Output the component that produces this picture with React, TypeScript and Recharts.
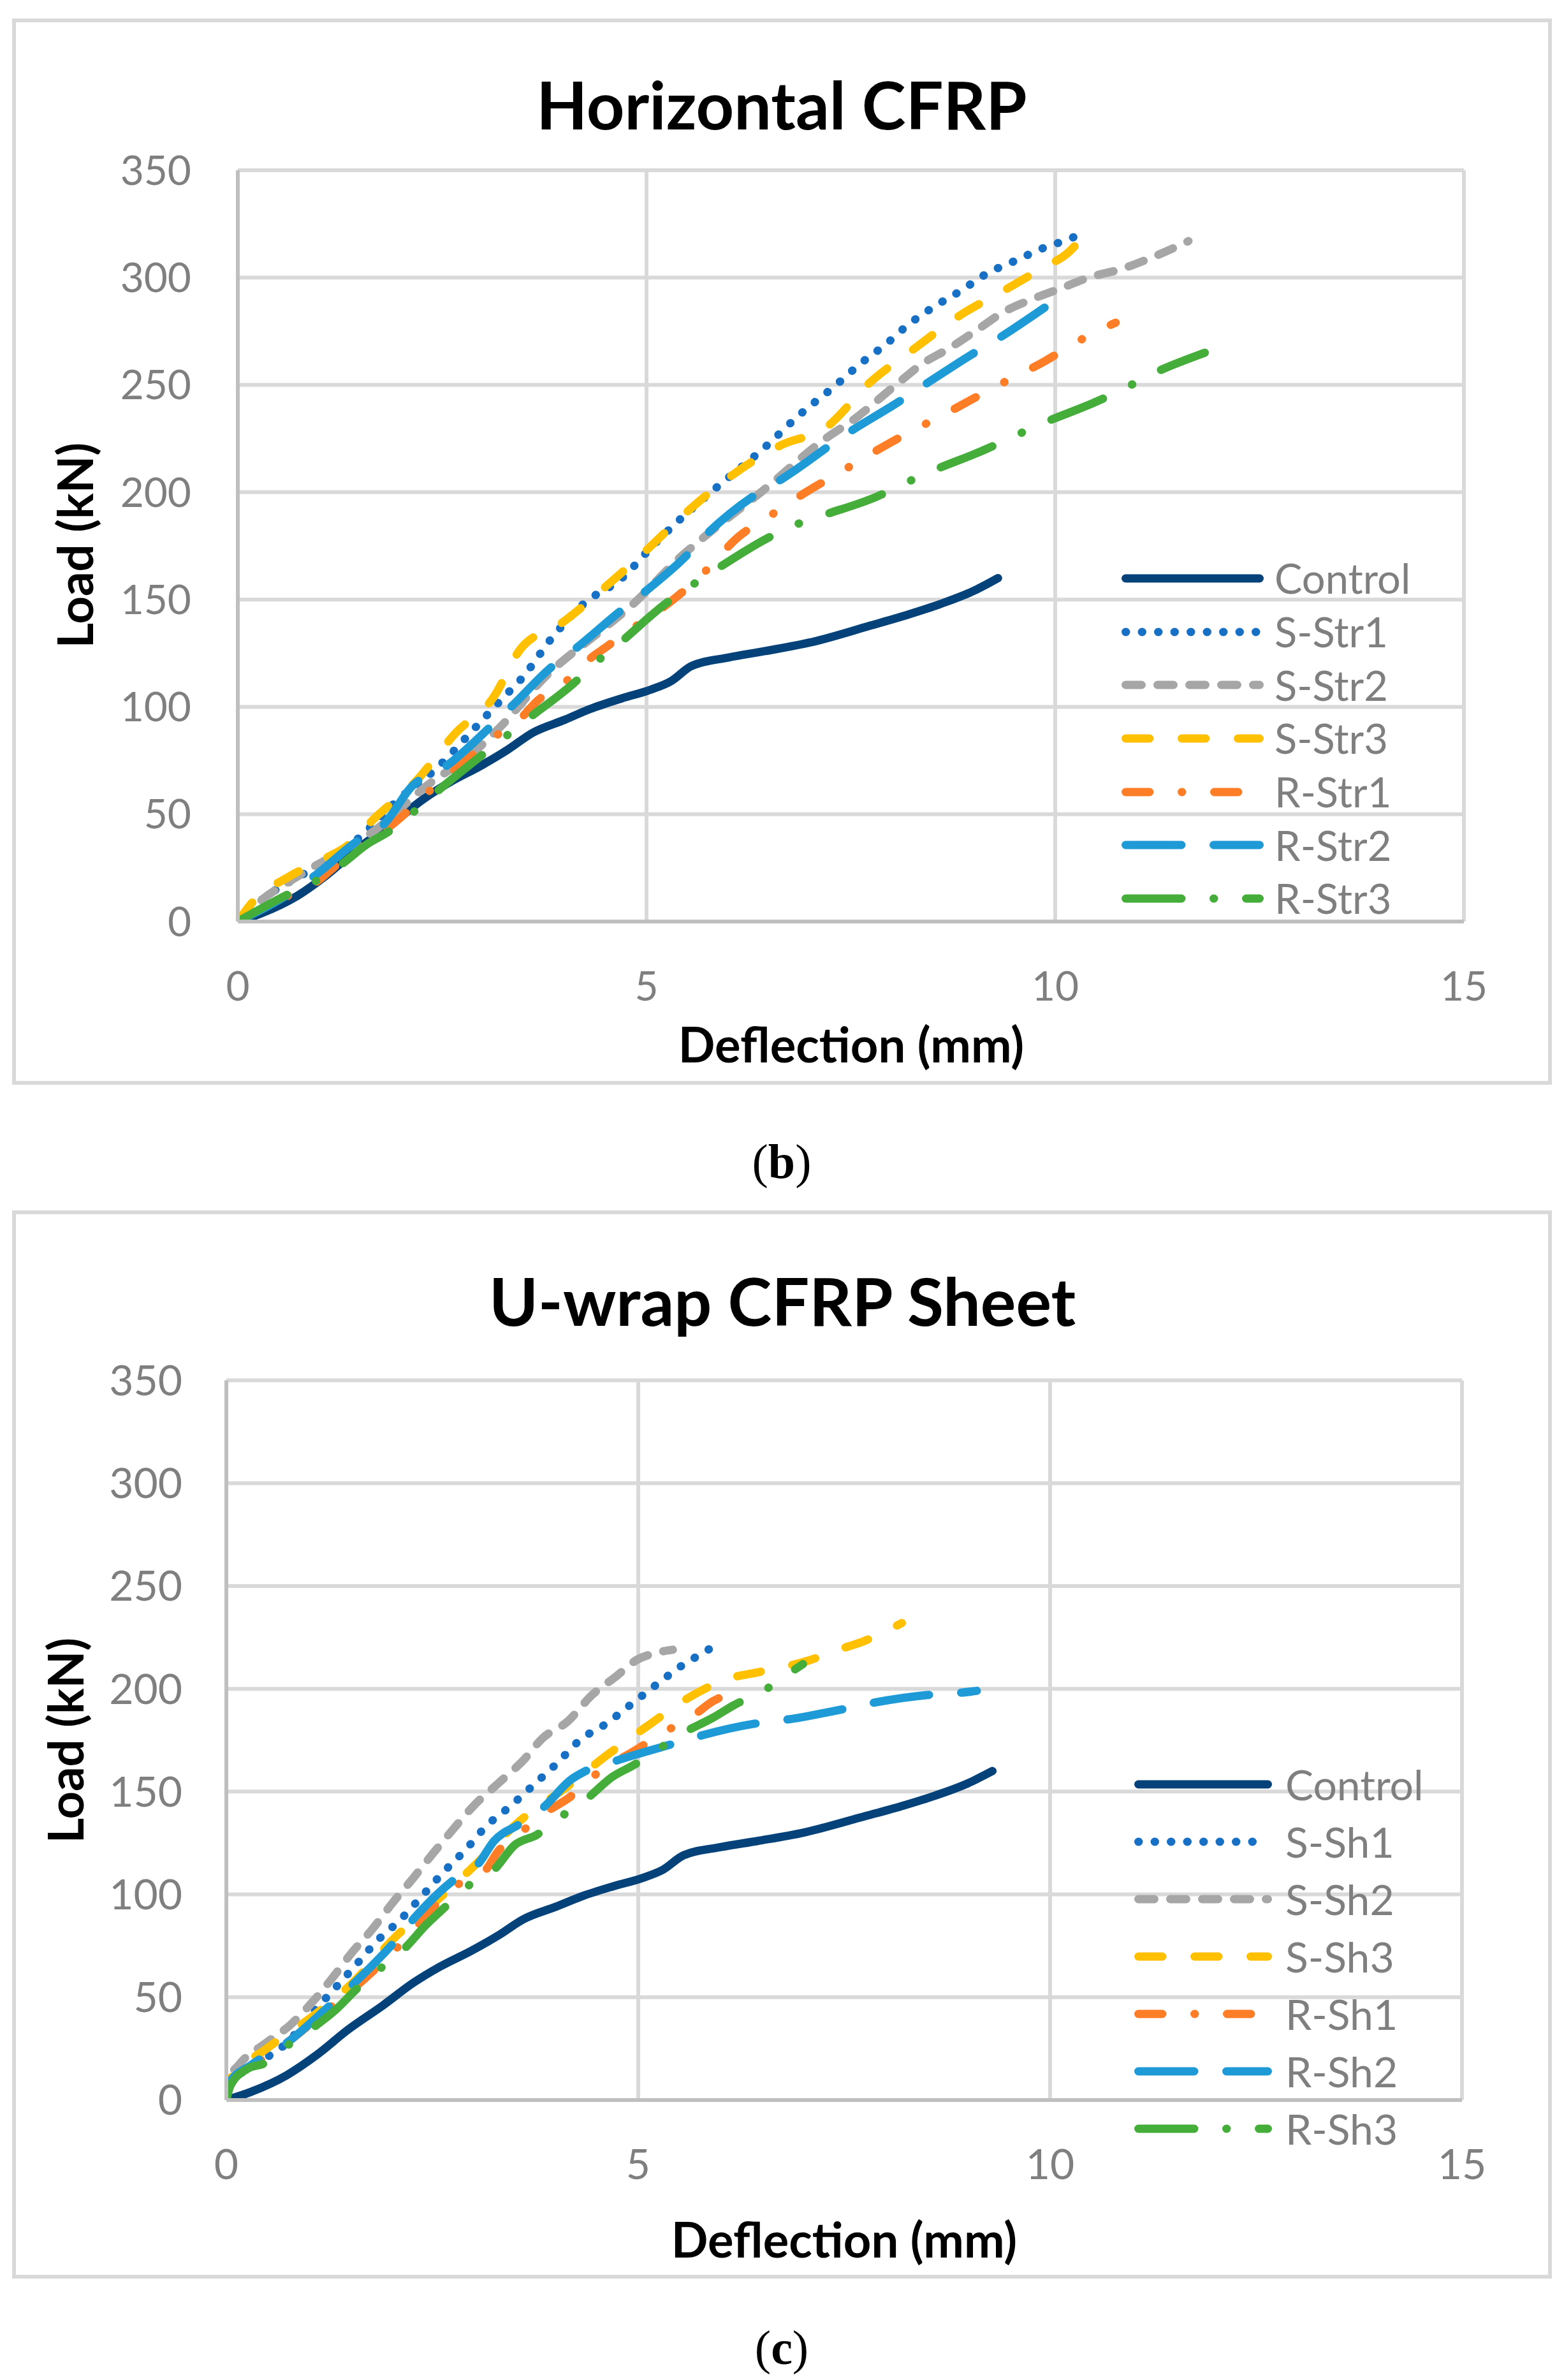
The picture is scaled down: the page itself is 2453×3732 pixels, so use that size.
import { LineChart, Line, XAxis, YAxis, CartesianGrid, Legend } from "recharts";

type Pt = [number, number];

const X_TICKS = [0, 5, 10, 15];
const Y_TICKS = [0, 50, 100, 150, 200, 250, 300, 350];

// same control beam in both panels
const CONTROL: Pt[] = [
  [0, 0], [0.3, 4], [0.73, 12], [1.1, 22], [1.47, 34], [1.9, 46], [2.27, 57], [2.6, 65],
  [2.97, 72.5], [3.3, 80], [3.61, 88], [4.0, 94], [4.31, 99], [4.7, 104], [5.05, 108],
  [5.3, 112], [5.55, 119], [6.0, 123], [6.45, 126], [7.0, 130], [7.75, 138], [8.2, 143],
  [8.6, 148], [9.0, 154], [9.3, 160],
];

// Horizontal CFRP strips
const S_STR1: Pt[] = [
  [0, 0], [0.29, 10], [0.93, 25], [1.45, 38], [1.97, 57], [2.42, 71], [2.97, 93], [3.24, 104],
  [3.49, 114], [3.84, 132], [4.23, 148], [4.7, 160], [5.1, 176], [5.4, 187], [5.85, 202],
  [6.45, 221], [6.87, 236], [7.32, 250], [7.62, 260], [7.93, 269], [8.2, 278], [8.5, 286],
  [8.85, 294], [9.17, 302], [9.52, 308], [9.87, 314], [10.1, 317], [10.3, 320],
];
const S_STR2: Pt[] = [
  [0, 0], [0.29, 10], [0.73, 21], [1.73, 44], [2.27, 62], [2.92, 80], [3.22, 91], [3.76, 114],
  [4.46, 136], [4.81, 147], [5.45, 171], [5.7, 179], [6.4, 200], [7.19, 225], [7.54, 234],
  [8.05, 250], [8.38, 260], [8.7, 267], [9.02, 275], [9.37, 284], [9.72, 290], [10.07, 295],
  [10.41, 300], [10.81, 304], [11.16, 309], [11.63, 317],
];
const S_STR3: Pt[] = [
  [0, 0], [0.18, 9], [0.63, 21], [1.1, 30], [1.33, 35], [1.67, 48], [2.17, 65], [2.67, 88],
  [3.12, 104], [3.46, 127], [3.96, 139], [4.5, 156], [5.0, 173], [5.5, 191], [6.05, 208],
  [6.65, 222], [7.19, 230], [7.73, 251], [8.28, 267], [8.82, 282], [9.42, 295], [9.87, 305],
  [10.14, 311], [10.44, 324],
];
const R_STR1: Pt[] = [
  [0, 0], [0.5, 10], [0.98, 19], [1.23, 27], [1.98, 48], [2.32, 60], [2.82, 76], [3.14, 86],
  [3.47, 95], [3.67, 103], [3.99, 111], [4.26, 121], [4.51, 128], [4.81, 136], [5.36, 151],
  [5.66, 161], [6.15, 180], [6.47, 188], [6.95, 200], [7.4, 210], [7.75, 218], [7.98, 223],
  [8.32, 230], [8.63, 236], [8.92, 242], [9.26, 249], [9.57, 255], [9.87, 261], [10.22, 269],
  [10.51, 275], [10.74, 279],
];
const R_STR2: Pt[] = [
  [0, 0], [0.63, 13], [0.93, 21], [1.48, 38], [1.78, 45], [2.13, 63], [2.57, 73], [3.07, 90],
  [3.37, 101], [3.82, 118], [4.16, 128], [4.66, 144], [4.96, 153], [5.45, 169], [5.75, 181],
  [6.3, 198], [6.65, 206], [7.48, 228], [8.08, 242], [8.4, 250], [8.97, 264], [9.32, 272],
  [9.87, 286],
];
const R_STR3: Pt[] = [
  [0, 0], [0.63, 13], [0.96, 19], [1.28, 27], [1.58, 36], [1.85, 42], [2.15, 51], [2.42, 60],
  [2.97, 77], [3.27, 86], [3.57, 95], [4.11, 111], [4.39, 121], [4.68, 130], [5.23, 148],
  [5.53, 156], [5.85, 164], [6.45, 178], [6.77, 184], [7.14, 189], [7.82, 198], [8.15, 204],
  [8.5, 210], [9.15, 220], [9.49, 226], [9.84, 232], [10.49, 242], [10.83, 248], [11.18, 255],
  [11.83, 265],
];

// U-wrap CFRP sheet
const S_SH1: Pt[] = [
  [0, 0], [0.05, 8], [0.3, 16], [0.74, 28], [1.06, 43], [1.31, 54], [1.58, 66], [1.82, 77],
  [2.12, 88], [2.37, 99], [2.64, 111], [2.91, 122], [3.15, 133], [3.45, 143], [3.75, 154],
  [4.02, 164], [4.29, 175], [4.61, 183], [4.9, 192], [5.22, 202], [5.52, 211], [5.85, 219],
  [6.01, 223],
];
const S_SH2: Pt[] = [
  [0, 0], [0.03, 10], [0.15, 17], [0.49, 28], [0.79, 37], [1.03, 47], [1.28, 59], [1.53, 72],
  [1.77, 83], [2.02, 96], [2.27, 108], [2.51, 120], [2.76, 132], [3.0, 143], [3.3, 154],
  [3.6, 165], [3.84, 176], [4.14, 184], [4.44, 197], [4.73, 206], [4.98, 214], [5.17, 217],
  [5.42, 219],
];
const S_SH3: Pt[] = [
  [0, 0], [0.03, 9], [0.49, 25], [0.99, 39], [1.48, 55], [2.07, 80], [2.61, 99], [2.96, 112],
  [3.6, 137], [4.09, 151], [4.63, 168], [5.08, 181], [5.67, 197], [6.1, 205], [6.45, 208],
  [7.09, 214], [7.43, 219], [7.73, 223], [8.2, 232],
];
const R_SH1: Pt[] = [
  [0, 0], [0.04, 8], [0.3, 16], [0.74, 28], [1.23, 44], [1.68, 59], [2.07, 74], [2.32, 85],
  [2.78, 104], [3.15, 112], [3.3, 121], [3.6, 131], [3.92, 141], [4.16, 147], [4.44, 157],
  [5.0, 171], [5.32, 179], [5.67, 187], [5.91, 194], [6.27, 199],
];
const R_SH2: Pt[] = [
  [0, 0], [0.03, 8], [0.3, 17], [0.74, 28], [1.23, 45], [1.53, 56], [2.02, 76], [2.27, 88],
  [2.76, 107], [3.06, 115], [3.25, 126], [3.55, 134], [3.84, 142], [4.19, 156], [4.36, 160],
  [4.73, 165], [5.4, 173], [5.74, 177], [6.41, 183], [6.8, 185], [7.48, 190], [7.83, 193],
  [8.52, 197], [8.89, 198], [9.11, 199],
];
const R_SH3: Pt[] = [
  [0, 0], [0.05, 7], [0.25, 15], [0.47, 18], [0.76, 27], [1.08, 36], [1.33, 44], [1.58, 54],
  [1.87, 64], [2.17, 74], [2.42, 85], [2.66, 94], [2.93, 104], [3.25, 112], [3.5, 124],
  [3.77, 129], [4.07, 138], [4.39, 147], [4.68, 157], [4.95, 163], [5.26, 171], [5.57, 179],
  [5.91, 186], [6.16, 192], [6.52, 199], [6.85, 208], [7.0, 212],
];

const NAVY = "#05427A";
const BLUE = "#1870C5";
const GRAY = "#A6A6A6";
const GOLD = "#FFC000";
const ORANGE = "#FD7E26";
const SKY = "#1E9BD7";
const GREEN = "#45AD3A";

const DOT = "0.5 25";
const DASH = "25 25";
const LGDASH = "37.5 50.5";
const DASHDOT = "37.5 50.5 0.5 50.5";
const LONGDASH = "87.5 50.5";
const LONGDASHDOT = "87.5 50.5 0.5 50.5";

const GRID = "#D9D9D9";
const AXIS = "#BFBFBF";
const TXT = "#7F7F7F";
const FONT = "Lato, 'Open Sans', sans-serif";

type Series = { name: string; points: Pt[]; color: string; dash?: string };

const HORIZONTAL: Series[] = [
  { name: "Control", points: CONTROL, color: NAVY },
  { name: "S-Str1", points: S_STR1, color: BLUE, dash: DOT },
  { name: "S-Str2", points: S_STR2, color: GRAY, dash: DASH },
  { name: "S-Str3", points: S_STR3, color: GOLD, dash: LGDASH },
  { name: "R-Str1", points: R_STR1, color: ORANGE, dash: DASHDOT },
  { name: "R-Str2", points: R_STR2, color: SKY, dash: LONGDASH },
  { name: "R-Str3", points: R_STR3, color: GREEN, dash: LONGDASHDOT },
];

const UWRAP: Series[] = [
  { name: "Control", points: CONTROL, color: NAVY },
  { name: "S-Sh1", points: S_SH1, color: BLUE, dash: DOT },
  { name: "S-Sh2", points: S_SH2, color: GRAY, dash: DASH },
  { name: "S-Sh3", points: S_SH3, color: GOLD, dash: LGDASH },
  { name: "R-Sh1", points: R_SH1, color: ORANGE, dash: DASHDOT },
  { name: "R-Sh2", points: R_SH2, color: SKY, dash: LONGDASH },
  { name: "R-Sh3", points: R_SH3, color: GREEN, dash: LONGDASHDOT },
];

const toRows = (pts: Pt[]) => pts.map(([x, y]) => ({ x, y }));

function LegendBox(props: { items: Series[]; rowH: number; sample: number; gap: number; fontSize: number }) {
  const { items, rowH, sample, gap, fontSize } = props;
  return (
    <div style={{ fontFamily: FONT }}>
      {items.map((s) => (
        <div key={s.name} style={{ height: rowH, display: "flex", alignItems: "center" }}>
          <svg width={sample} height={20} style={{ overflow: "visible", flex: "none" }}>
            <line x1={6.5} y1={10} x2={sample - 6.5} y2={10} stroke={s.color} strokeWidth={13}
              strokeLinecap="round" strokeDasharray={s.dash} />
          </svg>
          <span style={{ marginLeft: gap, fontSize, color: TXT, lineHeight: 1 }}>{s.name}</span>
        </div>
      ))}
    </div>
  );
}

function Panel(props: {
  top: number; height: number; marginTop: number; marginRight: number; yWidth: number; xHeight: number;
  yTickMargin: number; xTickMargin: number; tickFont: number; series: Series[];
  legend: { left: number; top: number; rowH: number; sample: number; gap: number; fontSize: number };
}) {
  const p = props;
  const tick = { fill: TXT, fontSize: p.tickFont, fontFamily: FONT };
  return (
    <div style={{ position: "absolute", left: 0, top: p.top }}>
      <LineChart width={2453} height={p.height} margin={{ top: p.marginTop, right: p.marginRight, bottom: 0, left: 0 }}>
        <CartesianGrid stroke={GRID} strokeWidth={6} />
        <XAxis type="number" dataKey="x" domain={[0, 15]} ticks={X_TICKS} height={p.xHeight}
          tickLine={false} tickSize={0} tickMargin={p.xTickMargin} tick={tick}
          axisLine={{ stroke: AXIS, strokeWidth: 6 }} allowDataOverflow />
        <YAxis type="number" dataKey="y" domain={[0, 350]} ticks={Y_TICKS} width={p.yWidth}
          tickLine={false} tickSize={0} tickMargin={p.yTickMargin} tick={tick}
          axisLine={{ stroke: AXIS, strokeWidth: 6 }} allowDataOverflow />
        <Legend layout="vertical" align="center" verticalAlign="middle"
          wrapperStyle={{ left: p.legend.left, top: p.legend.top, width: 600 }}
          content={() => <LegendBox items={p.series} rowH={p.legend.rowH} sample={p.legend.sample}
            gap={p.legend.gap} fontSize={p.legend.fontSize} />} />
        {p.series.map((s) => (
          <Line key={s.name} name={s.name} data={toRows(s.points)} dataKey="y" type="monotone"
            stroke={s.color} strokeWidth={13} strokeDasharray={s.dash} strokeLinecap="round"
            strokeLinejoin="round" dot={false} activeDot={false} isAnimationActive={false} />
        ))}
      </LineChart>
    </div>
  );
}

const abs = (left: number, top: number, extra: React.CSSProperties = {}): React.CSSProperties => ({
  position: "absolute", left, top, lineHeight: 1, whiteSpace: "nowrap", ...extra,
});

export default function App() {
  const frame: React.CSSProperties = {
    position: "absolute", left: 19, width: 2415, border: `6px solid ${GRID}`, boxSizing: "border-box",
  };
  const title: React.CSSProperties = { fontFamily: FONT, fontWeight: 700, fontSize: 104, color: "#000" };
  const axisTitle: React.CSSProperties = { fontFamily: FONT, fontWeight: 700, fontSize: 76, color: "#000" };
  const caption: React.CSSProperties = { fontFamily: "'Liberation Serif', serif", fontSize: 76, color: "#000" };
  return (
    <div style={{ position: "absolute", left: 0, top: 0, width: 2453, height: 3732, background: "#fff", overflow: "hidden" }}>
      <div style={{ ...frame, top: 29, height: 1672 }} />
      <div style={{ ...frame, top: 1898, height: 1675 }} />

      <Panel top={0} height={1701} marginTop={267} marginRight={157} yWidth={373} xHeight={256}
        yTickMargin={73} xTickMargin={79} tickFont={64} series={HORIZONTAL}
        legend={{ left: 1759, top: 865, rowH: 83.7, sample: 223, gap: 17, fontSize: 65 }} />
      <Panel top={1850} height={1750} marginTop={314.5} marginRight={160} yWidth={355} xHeight={307}
        yTickMargin={69} xTickMargin={77} tickFont={66} series={UWRAP}
        legend={{ left: 1779, top: 903, rowH: 90, sample: 216, gap: 21, fontSize: 66 }} />

      <div style={abs(1226, 166, { ...title, transform: "translate(-50%, -52.7%)" })}>Horizontal CFRP</div>
      <div style={abs(1335, 1639, { ...axisTitle, transform: "translate(-50%, -52.7%)" })}>Deflection (mm)</div>
      <div style={abs(117, 855, { ...axisTitle, transform: "translate(-50%, -50%) rotate(-90deg)" })}>Load (kN)</div>
      <div style={abs(1226, 1821, { ...caption, transform: "translate(-50%, -50%)" })}>(<b>b</b>)</div>

      <div style={abs(1227, 2042, { ...title, transform: "translate(-50%, -52.7%)" })}>U-wrap CFRP Sheet</div>
      <div style={abs(1324, 3513, { ...axisTitle, transform: "translate(-50%, -52.7%)" })}>Deflection (mm)</div>
      <div style={abs(102, 2729, { ...axisTitle, transform: "translate(-50%, -50%) rotate(-90deg)" })}>Load (kN)</div>
      <div style={abs(1226, 3681, { ...caption, transform: "translate(-50%, -50%)" })}>(<b>c</b>)</div>
    </div>
  );
}
